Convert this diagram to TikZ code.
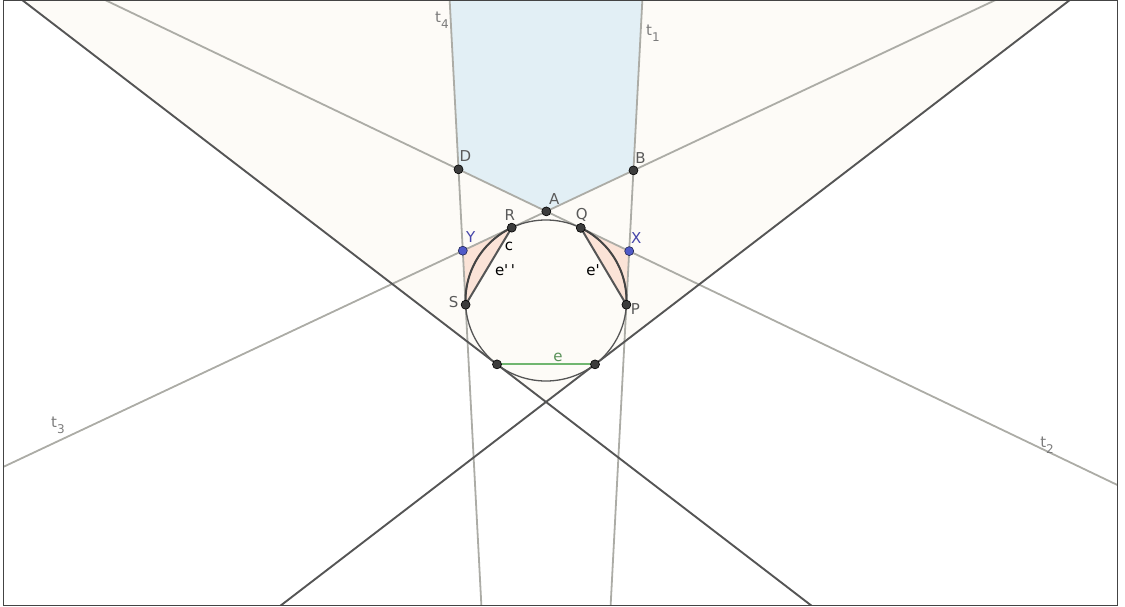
\documentclass[tikz,border=0pt]{standalone}
\usepackage{fontspec}
\setmainfont{DejaVu Sans}
\usetikzlibrary{calc}
\definecolor{cream}{RGB}{253,251,247}
\definecolor{skyfill}{RGB}{226,239,245}
\definecolor{peach}{RGB}{251,227,215}
\definecolor{tgray}{RGB}{172,172,166}
\definecolor{dgray}{RGB}{85,85,85}
\definecolor{egreen}{RGB}{112,182,112}
\definecolor{ptblue}{RGB}{80,90,200}
\definecolor{lblgray}{RGB}{90,90,90}
\definecolor{lblblue}{RGB}{70,70,170}
\newcommand{\tsub}[1]{t\raisebox{-6pt}{\fontsize{12}{12}\selectfont #1}}
\tikzset{
  tline/.style={tgray,line width=1.8pt},
  dline/.style={dgray,line width=1.9pt},
  pt/.style={circle,draw=black,fill=dgray!70!black,inner sep=0pt,minimum size=9pt,line width=0.6pt},
  bpt/.style={pt,fill=ptblue,draw=ptblue!40!black},
  lbl/.style={font=\fontsize{15}{17}\selectfont,text=lblgray,inner sep=0pt}
}
\begin{document}
\begin{tikzpicture}[x=1pt,y=-1pt]
\useasboundingbox (0,0) rectangle (1125,607);
\def\rr{80.5}
\coordinate (O) at (546,300.5);
\coordinate (nw) at (3.5,0.5); \coordinate (se) at (1117.5,605.5);
% points of contact, and far ends of the tangents
\foreach \n/\a in {P/3,Q/-64.4,R/-115.2,S/177,U/127.5,W/52.5}{
  \coordinate (\n) at ($(O)+(\a:\rr)$);
  \coordinate (\n1) at ($(\n)+({\a+90}:900)$);
  \coordinate (\n2) at ($(\n)-({\a+90}:900)$);}
\coordinate (A) at (intersection of Q1--Q2 and R1--R2);
\coordinate (X) at (intersection of P1--P2 and Q1--Q2);
\coordinate (Y) at (intersection of S1--S2 and R1--R2);
\coordinate (B) at (intersection of P1--P2 and R1--R2);
\coordinate (D) at (intersection of S1--S2 and Q1--Q2);
\coordinate (V) at (intersection of U1--U2 and W1--W2);
\begin{scope}
\clip (nw) rectangle (se);
\fill[cream] (U1) -- (V) -- (W2) -- cycle;
\fill[skyfill] (D) -- (A) -- (B) -- (P2) -- (S1) -- cycle;
\fill[peach] (Q) -- (X) -- (P) -- cycle (R) -- (Y) -- (S) -- cycle;
\foreach \n in {P,Q,R,S}{\draw[tline] (\n1) -- (\n2);}
\foreach \n in {U,W}{\draw[dline] (\n1) -- (\n2);}
\end{scope}
\draw[dgray,line width=1.3pt] (O) circle[radius=\rr pt];
\draw[dgray!80!black,line width=2pt,domain=-64.4:3,samples=30,variable=\t] plot ({546+\rr*cos(\t)},{300.5+\rr*sin(\t)});
\draw[dgray!80!black,line width=2pt,domain=177:244.8,samples=30,variable=\t] plot ({546+\rr*cos(\t)},{300.5+\rr*sin(\t)});
\draw[dline,line width=2pt] (Q) -- (P) (R) -- (S);
\draw[egreen,line width=1.8pt] (U) -- (W);
\foreach \n in {A,B,D,P,Q,R,S,U,W}{\node[pt] (d\n) at (\n) {};}
\foreach \n in {X,Y}{\node[bpt] (d\n) at (\n) {};}
\foreach \n/\dx/\dy in {D/7/-13,B/7/-12,A/8/-12,R/-2/-13,Q/1/-13,S/-12/-3,P/9/4}{\node[lbl] (l\n) at ($(\n)+(\dx,\dy)$) {\n};}
\foreach \n/\dx/\dy in {X/7/-13,Y/8/-14}{\node[lbl,text=lblblue] (l\n) at ($(\n)+(\dx,\dy)$) {\n};}
\node[lbl,text=black] (lc) at (509,246) {c};
\node[lbl,text=black] (le2) at (505,270) {e\textquotesingle\,\textquotesingle};
\node[lbl,text=black] (le1) at (593,270) {e\textquotesingle};
\node[lbl,text=egreen!80!black] (le) at (558,357) {e};
\node[lbl,text=lblgray!80] (lt4) at (442,20) {\tsub{4}};
\node[lbl,text=lblgray!80] (lt1) at (653,33) {\tsub{1}};
\node[lbl,text=lblgray!80] (lt3) at (58,425) {\tsub{3}};
\node[lbl,text=lblgray!80] (lt2) at (1047,445) {\tsub{2}};
\draw[dgray!80!black,line width=1.5pt] (nw) rectangle (se);
\end{tikzpicture}
\end{document}
